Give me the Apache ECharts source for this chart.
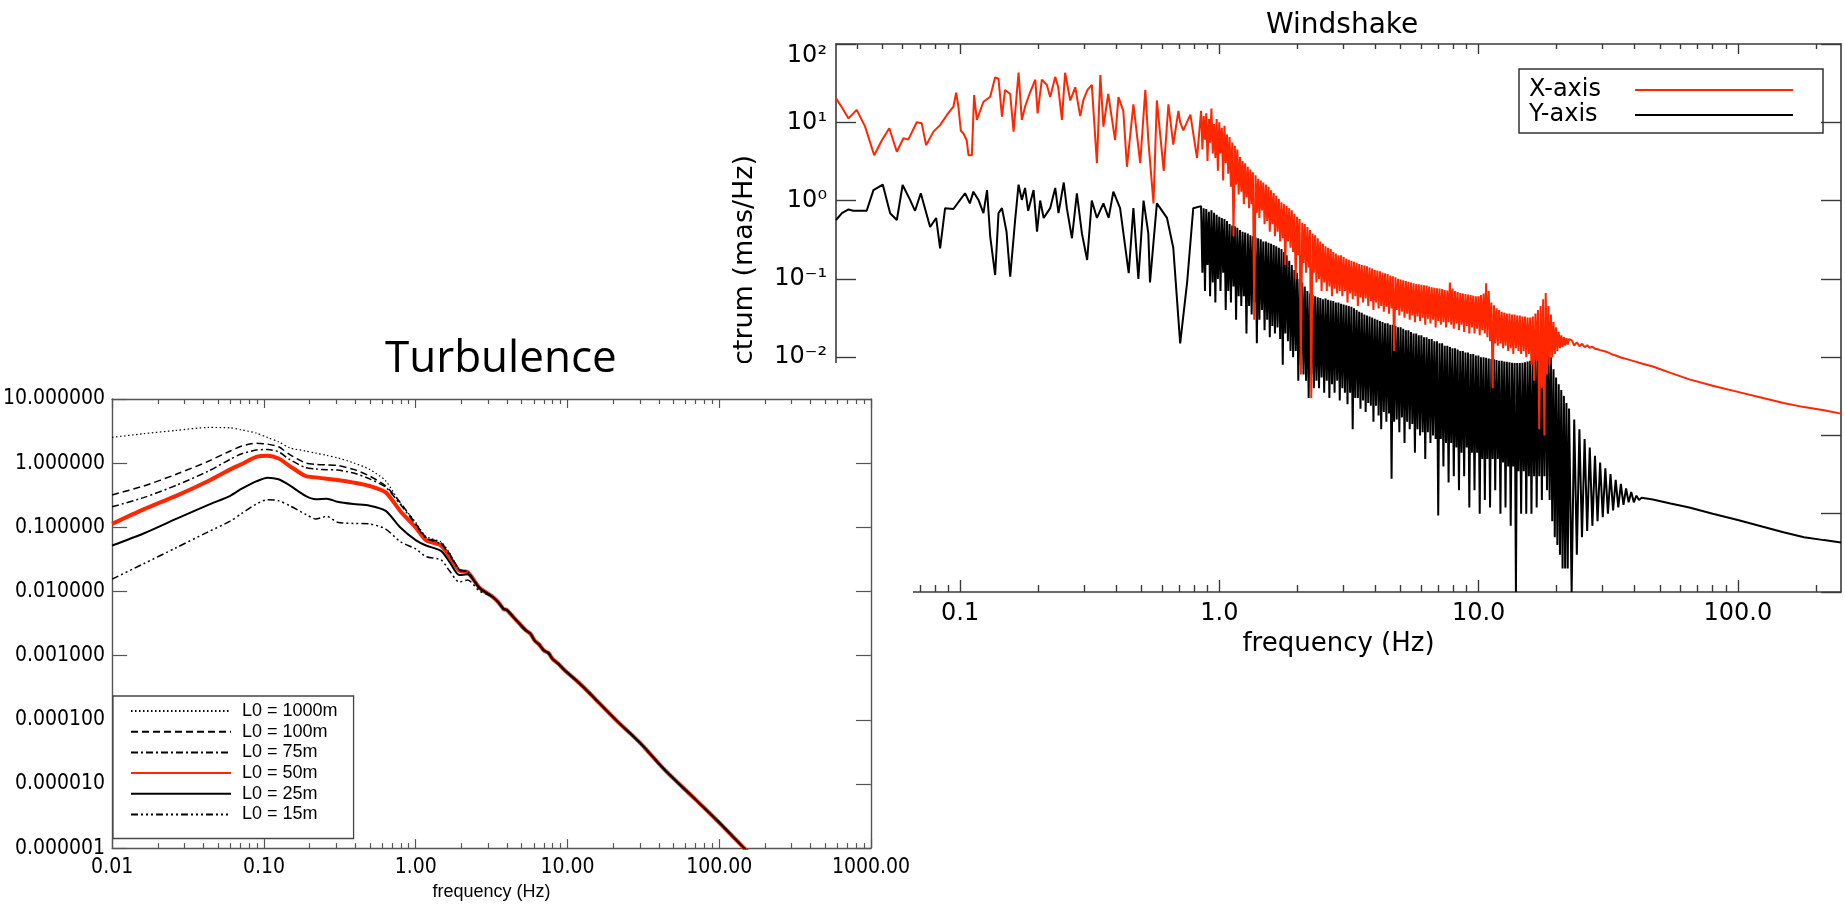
<!DOCTYPE html>
<html>
<head>
<meta charset="utf-8">
<script src="https://cdn.jsdelivr.net/npm/echarts@6.0.0/dist/echarts.min.js"></script>
<style>
html, body { margin: 0; padding: 0; background: #fff; }
#stage { position: relative; width: 1845px; height: 906px; overflow: hidden; background: #fff; }
#wind { position: absolute; left: 0; top: 0; width: 1845px; height: 906px; }
#cover { position: absolute; left: 0; top: 363px; width: 913px; height: 543px; background: #fff; }
#turb { position: absolute; left: 0; top: 330px; width: 913px; height: 576px; }
</style>
</head>
<body>
<div id="stage">
  <div id="wind"></div>
  <div id="cover"></div>
  <div id="turb"></div>
</div>
<script>
// ---------------- Windshake spectra (frequency in Hz, PSD in mas/Hz) ----------------
const windXLow = [[0.0332,20.2],[0.0352,15],[0.0371,11.2],[0.0399,14.4],[0.043,8.8],[0.0466,3.8],[0.0499,5.9],[0.0533,8.4],[0.057,4.2],[0.0604,6.25],[0.0631,6.0],[0.068,10],[0.0711,9.7],[0.0739,5.1],[0.0789,7.6],[0.0837,9.2],[0.0889,12.4],[0.0942,15.8],[0.0965,23.9],[0.0985,15.8],[0.1006,7.8],[0.103,7.2],[0.106,5.9],[0.1077,3.8],[0.111,3.8],[0.1132,22.3],[0.116,10.7],[0.123,18.3],[0.1306,21.2],[0.1365,37.5],[0.1406,36],[0.145,11.8],[0.149,25.9],[0.156,23],[0.1607,7.6],[0.168,43],[0.173,10.7],[0.178,15.8],[0.186,24],[0.195,35],[0.199,13],[0.2067,35],[0.216,30],[0.2225,21],[0.2327,38],[0.239,28],[0.247,10.7],[0.254,43],[0.266,19],[0.278,28],[0.2905,12],[0.2985,19],[0.31,26],[0.322,30],[0.337,3.0],[0.3474,40],[0.357,8.8],[0.3726,23],[0.396,5.9],[0.408,21],[0.426,14],[0.44,2.7],[0.466,17],[0.495,3.0],[0.518,26],[0.532,5.9],[0.557,0.92],[0.574,19],[0.61,2.4],[0.636,17],[0.664,5.2],[0.695,14],[0.706,10],[0.726,7.9],[0.773,12.5],[0.82,3.5]];

const windYLow = [[0.0332,0.565],[0.035,0.69],[0.0371,0.77],[0.0387,0.74],[0.0436,0.74],[0.0463,1.36],[0.0503,1.6],[0.0537,0.69],[0.057,0.565],[0.06,1.58],[0.0641,1.02],[0.067,0.74],[0.0705,1.24],[0.0766,0.46],[0.0808,0.6],[0.0837,0.245],[0.0875,0.8],[0.0942,0.78],[0.1,1.02],[0.1045,1.24],[0.109,0.92],[0.1125,1.3],[0.118,1.0],[0.123,0.69],[0.127,1.36],[0.1306,0.35],[0.1365,0.112],[0.1406,0.69],[0.145,0.8],[0.151,0.4],[0.156,0.107],[0.163,0.565],[0.168,1.6],[0.173,1.02],[0.178,1.45],[0.183,0.74],[0.192,1.36],[0.198,0.4],[0.2036,1.0],[0.21,0.6],[0.2225,0.8],[0.2327,1.45],[0.2396,0.69],[0.251,1.7],[0.258,0.8],[0.27,0.33],[0.282,1.24],[0.295,0.38],[0.309,0.174],[0.322,1.0],[0.337,0.6],[0.357,0.92],[0.374,0.6],[0.39,1.3],[0.414,0.8],[0.447,0.118],[0.466,0.8],[0.487,0.1],[0.51,1.0],[0.532,0.38],[0.54,0.09],[0.574,0.92],[0.628,0.6],[0.664,0.25],[0.706,0.015],[0.751,0.09],[0.793,0.8]];

// finely sampled band, shared frequency grid
const windDenseFreq = [0.85,0.86,0.87,0.88,0.89,0.9,0.911,0.921,0.932,0.943,
  0.954,0.965,0.976,0.987,0.999,1.01,1.022,1.034,1.046,1.058,
  1.07,1.082,1.095,1.108,1.121,1.134,1.147,1.16,1.173,1.187,
  1.201,1.215,1.229,1.243,1.257,1.272,1.287,1.302,1.317,1.332,
  1.347,1.363,1.379,1.395,1.411,1.427,1.444,1.46,1.477,1.494,
  1.512,1.529,1.547,1.565,1.583,1.601,1.62,1.638,1.657,1.676,
  1.696,1.716,1.736,1.756,1.776,1.796,1.817,1.838,1.86,1.881,
  1.903,1.925,1.947,1.97,1.993,2.016,2.039,2.063,2.087,2.111,
  2.135,2.16,2.185,2.21,2.236,2.262,2.288,2.314,2.341,2.368,
  2.396,2.423,2.451,2.479,2.508,2.537,2.567,2.596,2.626,2.657,
  2.688,2.719,2.75,2.782,2.814,2.847,2.88,2.913,2.947,2.981,
  3.015,3.05,3.086,3.121,3.157,3.194,3.231,3.268,3.306,3.344,
  3.383,3.422,3.462,3.502,3.542,3.583,3.625,3.667,3.709,3.752,
  3.796,3.84,3.884,3.929,3.974,4.02,4.067,4.114,4.162,4.21,
  4.259,4.308,4.358,4.408,4.459,4.511,4.563,4.616,4.669,4.723,
  4.778,4.833,4.889,4.946,5.003,5.061,5.12,5.179,5.239,5.3,
  5.361,5.423,5.486,5.55,5.614,5.679,5.744,5.811,5.878,5.946,
  6.015,6.085,6.155,6.226,6.299,6.372,6.445,6.52,6.595,6.672,
  6.749,6.827,6.906,6.986,7.067,7.149,7.232,7.316,7.4,7.486,
  7.572,7.66,7.749,7.839,7.929,8.021,8.114,8.208,8.303,8.399,
  8.496,8.594,8.694,8.795,8.897,9.0,9.104,9.209,9.316,9.424,
  9.533,9.643,9.755,9.868,9.982,10.1,10.21,10.33,10.45,10.57,
  10.69,10.81,10.94,11.07,11.2,11.33,11.46,11.59,11.72,11.86,
  12.0,12.14,12.28,12.42,12.56,12.7,12.85,13.0,13.15,13.3,
  13.46,13.61,13.77,13.93,14.09,14.25,14.42,14.59,14.76,14.93,
  15.1,15.27,15.45,15.63,15.81,15.99,16.18,16.37,16.56,16.75,
  16.94,17.14,17.34,17.54,17.74,17.94,18.15,18.36,18.58,18.79,
  19.01,19.23,19.45,19.67,19.9,20.13,20.37,20.6,20.84,21.08,
  21.33,21.57,21.82,22.07,22.33];

const windXDense = [14,4.5,12,6,13,3.2,11,5.5,15,4,
  9.5,3.5,11,2.4,10,4,8.5,1.8,9,3,
  7,2.2,6.5,1.5,5.5,0.35,5,1.6,4.5,1.2,
  3.6,1.3,3.2,0.9,3,1.1,2.7,0.8,2.5,0.9,
  2.3,0.03,2.1,0.7,1.9,0.6,1.8,0.75,1.7,0.5,
  1.6,0.55,1.5,0.4,1.35,0.5,1.25,0.35,1.15,0.4,
  1.05,0.3,0.95,0.33,0.9,0.15,0.85,0.3,0.8,0.25,
  0.75,0.22,0.68,0.1,0.62,0.2,0.58,0.006,0.52,0.16,
  0.5,0.12,0.46,0.14,0.42,0.003,0.38,0.12,0.36,0.09,
  0.33,0.1,0.3,0.07,0.28,0.09,0.26,0.07,0.25,0.08,
  0.24,0.06,0.22,0.075,0.21,0.065,0.2,0.07,0.2,0.06,
  0.19,0.07,0.18,0.05,0.175,0.065,0.17,0.055,0.165,0.06,
  0.16,0.045,0.155,0.058,0.15,0.05,0.148,0.056,0.145,0.045,
  0.14,0.052,0.135,0.04,0.13,0.05,0.128,0.042,0.125,0.045,
  0.12,0.038,0.118,0.044,0.115,0.036,0.11,0.042,0.108,0.012,
  0.105,0.04,0.1,0.034,0.098,0.038,0.096,0.032,0.094,0.036,
  0.092,0.03,0.09,0.034,0.088,0.028,0.086,0.033,0.085,0.029,
  0.084,0.032,0.083,0.026,0.082,0.031,0.08,0.027,0.078,0.03,
  0.077,0.024,0.076,0.029,0.075,0.026,0.074,0.028,0.072,0.024,
  0.071,0.028,0.09,0.026,0.075,0.023,0.07,0.027,0.068,0.022,
  0.066,0.026,0.065,0.021,0.064,0.025,0.063,0.02,0.062,0.024,
  0.061,0.02,0.06,0.023,0.06,0.019,0.062,0.022,0.065,0.02,
  0.088,0.018,0.07,0.016,0.05,0.004,0.046,0.015,0.042,0.014,
  0.04,0.015,0.038,0.013,0.037,0.014,0.036,0.012,0.036,0.013,
  0.035,0.011,0.035,0.013,0.034,0.012,0.034,0.011,0.033,0.012,
  0.033,0.01,0.032,0.011,0.032,0.008,0.033,0.005,0.036,0.009,
  0.04,0.0012,0.045,0.004,0.055,0.001,0.066,0.006,0.045,0.008,
  0.035,0.01,0.028,0.011,0.024,0.012,0.021,0.013,0.019,0.0135,
  0.018,0.014,0.0175,0.0145,0.017];

const windYDense = [0.85,0.12,0.8,0.07,0.78,0.15,0.72,0.06,0.75,0.09,
  0.7,0.05,0.66,0.1,0.62,0.07,0.6,0.12,0.58,0.04,
  0.55,0.07,0.5,0.05,0.48,0.08,0.47,0.03,0.45,0.06,
  0.42,0.045,0.4,0.06,0.39,0.02,0.38,0.045,0.36,0.035,
  0.35,0.05,0.34,0.015,0.33,0.03,0.32,0.04,0.3,0.022,
  0.3,0.03,0.29,0.018,0.28,0.025,0.27,0.02,0.26,0.024,
  0.25,0.017,0.24,0.008,0.22,0.02,0.2,0.016,0.17,0.012,
  0.15,0.01,0.13,0.012,0.12,0.005,0.1,0.008,0.09,0.006,
  0.08,0.005,0.07,0.003,0.065,0.006,0.062,0.004,0.06,0.005,
  0.058,0.004,0.057,0.0055,0.055,0.0035,0.056,0.005,0.054,0.003,
  0.053,0.0045,0.052,0.0035,0.05,0.005,0.05,0.0028,0.048,0.004,
  0.047,0.0035,0.046,0.0025,0.045,0.0035,0.044,0.0012,0.042,0.003,
  0.04,0.003,0.038,0.0022,0.037,0.0028,0.035,0.002,0.034,0.0026,
  0.033,0.0024,0.032,0.0015,0.031,0.0024,0.03,0.0018,0.029,0.0012,
  0.028,0.002,0.027,0.0015,0.027,0.0019,0.026,0.00028,0.026,0.0015,
  0.025,0.0016,0.024,0.0011,0.024,0.0017,0.023,0.0008,0.022,0.0015,
  0.022,0.0012,0.021,0.0014,0.02,0.0006,0.02,0.0012,0.019,0.001,
  0.019,0.0011,0.018,0.0005,0.018,0.0011,0.017,0.0008,0.017,0.001,
  0.016,0.0009,0.016,0.000095,0.015,0.0009,0.015,0.0004,0.014,0.0008,
  0.014,0.00025,0.0135,0.0008,0.013,0.0003,0.013,0.0007,0.0125,0.0002,
  0.012,0.0006,0.012,0.0003,0.0115,0.0007,0.0115,0.00012,0.011,0.0006,
  0.011,0.0002,0.0105,0.0006,0.0105,0.0001,0.01,0.0005,0.01,0.00015,
  0.0098,0.0005,0.0096,0.00012,0.0095,0.0005,0.0094,0.0002,0.0092,0.0005,
  0.009,0.0001,0.009,0.00045,0.0088,0.00012,0.0087,0.0004,0.0086,0.00007,
  0.0085,0.0004,0.0084,0.00001,0.0084,0.00035,0.0084,0.0001,0.0085,0.00035,
  0.0086,0.0001,0.0088,0.0003,0.009,0.0001,0.0095,0.0003,0.011,0.00012,
  0.013,0.0003,0.016,0.00015,0.02,0.0003,0.018,0.0002,0.014,0.00015,
  0.01,0.00008,0.007,0.00005,0.0055,0.00004,0.0045,0.00003,0.0038,0.00002,
  0.0032,0.00002,0.0026,0.00002,0.0022];

// coarser band above the resonance
const windMidFreq = [22.85,23.38,23.93,24.48,25.05,25.64,26.23,26.84,27.47,28.11,
  28.76,29.43,30.12,30.82,31.54,32.27,33.02,33.79,34.58,35.38,
  36.21,37.05,37.91,38.79,39.7,40.62,41.57,42.53];
const windXMid = [0.0165,0.014,0.0155,0.0138,0.0148,0.0134,0.0142,0.0132,0.0136,0.0128,
  0.0126,0.0123,0.0121,0.0118,0.0115,0.0111,0.0107,0.0105,0.0102,0.0099,
  0.0097,0.0095,0.0093,0.0091,0.0089,0.0087,0.0085,0.0083];
const windYMid = [0.00001,0.0016,0.00003,0.0012,0.00005,0.0009,0.00006,0.0007,0.00007,0.00055,
  0.00008,0.00045,0.00009,0.00038,0.0001,0.00032,0.00011,0.00027,0.00012,0.00024,
  0.00013,0.00021,0.00014,0.00019,0.00014,0.00017,0.00015,0.00016];

const windXTail = [[47,0.0076],[55,0.0063],[65,0.0052],[80,0.0043],[100,0.0036],[125,0.003],[150,0.0026],[180,0.0023],[215,0.0021],[250,0.0019]];
const windYTail = [[47,0.000152],[55,0.000135],[65,0.00012],[80,0.0001],[100,0.000083],[125,0.000068],[150,0.000058],[180,0.00005],[215,0.000046],[250,0.000043]];

const windXMajor = [0.1, 1, 10, 100];
const windXMinor = [0.04,0.05,0.06,0.07,0.08,0.09,0.2,0.3,0.4,0.5,0.6,0.7,0.8,0.9,2,3,4,5,6,7,8,9,20,30,40,50,60,70,80,90,200];
const windYMajor = [1e-5,1e-4,1e-3,1e-2,1e-1,1,10,100];

// ---------------- Turbulence spectra for several outer scales ----------------
const turbLowFreq = [0.01,0.0161,0.0264,0.043,0.06,0.0715,0.089,0.106,0.125,0.148,0.188,0.22,0.26,0.305,0.39,0.497,0.635,0.79,1.0,1.17,1.47,1.67,1.94,2.2,2.63];
const turbL1000 = [2.52,2.88,3.24,3.6,3.55,3.3,2.95,2.5,2.15,1.73,1.55,1.43,1.32,1.21,1.01,0.80,0.527,0.24,0.12,0.072,0.059,0.040,0.022,0.0205,0.0117];
const turbL100  = [0.32,0.44,0.67,1.07,1.55,1.85,2.05,1.98,1.8,1.36,1.01,0.96,0.94,0.92,0.80,0.63,0.44,0.244,0.115,0.07,0.057,0.039,0.022,0.0202,0.0116];
const turbL75   = [0.209,0.29,0.45,0.75,1.15,1.4,1.6,1.63,1.5,1.14,0.85,0.81,0.79,0.78,0.7,0.57,0.42,0.23,0.11,0.068,0.055,0.037,0.0215,0.0201,0.0115];
const turbL50   = [0.113,0.19,0.309,0.527,0.8,0.97,1.25,1.3,1.18,0.9,0.63,0.6,0.57,0.546,0.497,0.44,0.35,0.18,0.10,0.063,0.052,0.035,0.021,0.020,0.0115];
const turbL25   = [0.052,0.08,0.135,0.224,0.31,0.40,0.52,0.594,0.56,0.45,0.31,0.275,0.28,0.25,0.23,0.217,0.18,0.1,0.063,0.052,0.043,0.029,0.018,0.0186,0.0112];
const turbL15   = [0.0156,0.027,0.048,0.085,0.125,0.165,0.23,0.27,0.26,0.217,0.16,0.135,0.148,0.12,0.115,0.113,0.094,0.06,0.046,0.035,0.031,0.021,0.014,0.0151,0.0102];
// common high-frequency part shared by all outer scales
const turbTail = [[3.2,0.0083],[3.5,0.0068],[3.8,0.0053],[3.97,0.0052],[4.4,0.0040],[4.8,0.0032],[5.3,0.0025],[5.7,0.0022],[6.1,0.0017],[6.5,0.0015],[7.0,0.0012],[7.5,0.0011],[8.0,0.00088],[8.7,0.00075],[9.4,0.00062],[10,0.00054],[12,0.00037],[15,0.00022],[21,0.000098],[30,0.000044],[44.6,0.0000158],[70,0.0000057],[100,0.0000025],[146,0.000001],[160,0.0000008]];

const turbXMajor = [0.01, 0.1, 1, 10, 100, 1000];
const turbXMinor = [0.02,0.03,0.04,0.05,0.06,0.07,0.08,0.09,0.2,0.3,0.4,0.5,0.6,0.7,0.8,0.9,2,3,4,5,6,7,8,9,20,30,40,50,60,70,80,90,200,300,400,500,600,700,800,900];
const turbYMajor = [1e-6,1e-5,1e-4,1e-3,1e-2,1e-1,1,10];

const RED = '#ff2600';
const HERSHEY = 'DejaVu Sans';
const NARROW = "'Liberation Sans Narrow', 'Arial Narrow', 'DejaVu Sans Condensed', 'Liberation Sans', sans-serif";

const zip = (f, v) => f.map((x, i) => [x, v[i]]);
const SUP = { '0': '\u2070', '1': '\u00b9', '2': '\u00b2', '3': '\u00b3', '4': '\u2074', '5': '\u2075', '-': '\u207b' };
const powLabel = v => '10' + String(Math.round(Math.log10(v))).split('').map(c => SUP[c]).join('');

// ---------- helper for framed log axes ----------
function frameAxis(extra) {
  const base = {
    type: 'log', logBase: 10,
    splitLine: { show: false },
    axisLine: { show: false, onZero: false },
    axisTick: { show: true, inside: true },
    axisLabel: { show: false }
  };
  return Object.assign(base, extra);
}

// ======================= Windshake =======================
const windColor = '#3a3a3a';
const wLine = { show: true, onZero: false, lineStyle: { color: windColor, width: 1.6 } };
const wx = (pos, ticks, len, line, label, name) => frameAxis({
  position: pos, min: 0.0332, max: 250,
  axisLine: line ? wLine : { show: false, onZero: false },
  axisTick: { show: true, inside: true, length: len, customValues: ticks, lineStyle: { color: windColor, width: 1.4 } },
  axisLabel: label ? {
    show: true, customValues: windXMajor, margin: 10,
    formatter: v => Number(v).toFixed(1),
    fontFamily: HERSHEY, fontSize: 24, color: '#000'
  } : { show: false },
  name: name || '', nameLocation: 'middle', nameGap: 36,
  nameTextStyle: { fontFamily: HERSHEY, fontSize: 26, color: '#000' }
});
const wy = (pos, label) => frameAxis({
  position: pos, min: 1e-5, max: 100,
  axisLine: wLine,
  axisTick: { show: true, inside: true, length: 20, customValues: windYMajor, lineStyle: { color: windColor, width: 1.4 } },
  axisLabel: label ? {
    show: true, customValues: windYMajor, margin: 9, formatter: powLabel,
    fontFamily: HERSHEY, fontSize: 24, color: '#000', verticalAlignMaxLabel: 'top'
  } : { show: false },
  name: label ? 'Power spectrum (mas/Hz)' : '', nameLocation: 'middle', nameGap: 78,
  nameTextStyle: { fontFamily: HERSHEY, fontSize: 27, color: '#000', padding: [0, 22, 0, 0] }
});

const windChart = echarts.init(document.getElementById('wind'), null, { renderer: 'canvas' });
windChart.setOption({
  animation: false,
  backgroundColor: '#fff',
  title: {
    text: 'Windshake', left: 1261, top: 7,
    textStyle: { fontFamily: HERSHEY, fontSize: 28, fontWeight: 'normal', color: '#000' }
  },
  grid: { left: 836, right: 4, top: 44, bottom: 314 },
  xAxis: [
    wx('bottom', windXMajor, 12, true, true, 'frequency (Hz)'),
    wx('bottom', windXMinor, 7, false, false),
    wx('top', windXMajor, 10, true, false),
    wx('top', windXMinor, 5, false, false)
  ],
  yAxis: [wy('left', true), wy('right', false)],
  legend: {
    data: ['X-axis', 'Y-axis'], orient: 'vertical', align: 'right',
    left: 1519, top: 69, padding: [9, 29, 6, 10], itemGap: 1,
    itemWidth: 158, itemHeight: 20, selectedMode: false,
    borderColor: '#333', borderWidth: 1.5, borderRadius: 0,
    itemStyle: { opacity: 0 },
    formatter: name => '{t|' + name + '}',
    textStyle: {
      fontFamily: HERSHEY, fontSize: 24, color: '#000',
      rich: { t: { fontFamily: HERSHEY, fontSize: 24, color: '#000', width: 101, align: 'left' } }
    }
  },
  series: [
    {
      name: 'Y-axis', type: 'line', symbol: 'none', xAxisIndex: 0, yAxisIndex: 0,
      data: windYLow.concat(zip(windDenseFreq, windYDense), zip(windMidFreq, windYMid), windYTail),
      lineStyle: { color: '#000', width: 2 }, itemStyle: { color: '#000' }
    },
    {
      name: 'X-axis', type: 'line', symbol: 'none', xAxisIndex: 0, yAxisIndex: 0,
      data: windXLow.concat(zip(windDenseFreq, windXDense), zip(windMidFreq, windXMid), windXTail),
      lineStyle: { color: RED, width: 2 }, itemStyle: { color: RED }
    }
  ]
});

// ======================= Turbulence =======================
const turbColor = '#555';
const tLine = { show: true, onZero: false, lineStyle: { color: turbColor, width: 1.4 } };
const tx = (pos, ticks, len, line, label) => frameAxis({
  position: pos, min: 0.01, max: 1000,
  axisLine: line ? tLine : { show: false, onZero: false },
  axisTick: { show: true, inside: true, length: len, customValues: ticks, lineStyle: { color: turbColor, width: 1.2 } },
  axisLabel: label ? {
    show: true, customValues: turbXMajor, margin: 9,
    formatter: v => Number(v).toFixed(2),
    fontFamily: NARROW, fontSize: 21, color: '#000'
  } : { show: false },
  name: label ? 'frequency (Hz)' : '', nameLocation: 'middle', nameGap: 30,
  nameTextStyle: { fontFamily: 'Liberation Sans', fontSize: 18, color: '#000' }
});
const ty = (pos, label) => frameAxis({
  position: pos, min: 1e-6, max: 10,
  axisLine: tLine,
  axisTick: { show: true, inside: true, length: 15, customValues: turbYMajor, lineStyle: { color: turbColor, width: 1.2 } },
  axisLabel: label ? {
    show: true, customValues: turbYMajor, margin: 7,
    formatter: v => Number(v).toFixed(6),
    fontFamily: NARROW, fontSize: 21, color: '#000'
  } : { show: false }
});

const turbSeries = (name, vals, style) => ({
  name, type: 'line', symbol: 'none', smooth: 0.25, xAxisIndex: 0, yAxisIndex: 0,
  data: zip(turbLowFreq, vals).concat(turbTail),
  lineStyle: style, itemStyle: { color: style.color }
});

const turbChart = echarts.init(document.getElementById('turb'), null, { renderer: 'canvas' });
turbChart.setOption({
  animation: false,
  title: {
    text: 'Turbulence', left: 380, top: 2,
    textStyle: { fontFamily: "'Open Sans', 'Noto Sans', sans-serif", fontSize: 44, fontWeight: 'normal', color: '#000' }
  },
  grid: { left: 101, right: 29, top: 69, bottom: 54 },
  xAxis: [
    tx('bottom', turbXMajor, 9, true, true),
    tx('bottom', turbXMinor, 5, false, false),
    tx('top', turbXMajor, 9, true, false),
    tx('top', turbXMinor, 5, false, false)
  ],
  yAxis: [ty('left', true), ty('right', false)],
  legend: {
    data: ['L0 = 1000m', 'L0 = 100m', 'L0 = 75m', 'L0 = 50m', 'L0 = 25m', 'L0 = 15m'],
    orient: 'vertical', align: 'left', left: 113, top: 366,
    padding: [6, 16, 15, 17], itemGap: 2.7, itemWidth: 100, itemHeight: 14,
    selectedMode: false, borderColor: '#444', borderWidth: 1.3, borderRadius: 0,
    backgroundColor: '#fff', itemStyle: { opacity: 0 },
    textStyle: { fontFamily: 'Liberation Sans', fontSize: 18, color: '#000', width: 104, padding: [0, 0, 0, 6] }
  },
  series: [
    turbSeries('L0 = 50m', turbL50, { color: RED, width: 4 }),
    turbSeries('L0 = 1000m', turbL1000, { color: '#000', width: 1.2, type: [1.5, 2.5] }),
    turbSeries('L0 = 100m', turbL100, { color: '#000', width: 1.5, type: [7, 4] }),
    turbSeries('L0 = 75m', turbL75, { color: '#000', width: 1.5, type: [7, 3, 2, 3] }),
    turbSeries('L0 = 25m', turbL25, { color: '#000', width: 2 }),
    turbSeries('L0 = 15m', turbL15, { color: '#000', width: 1.5, type: [7, 3, 2, 3, 2, 3, 2, 3] })
  ]
});
</script>
</body>
</html>
